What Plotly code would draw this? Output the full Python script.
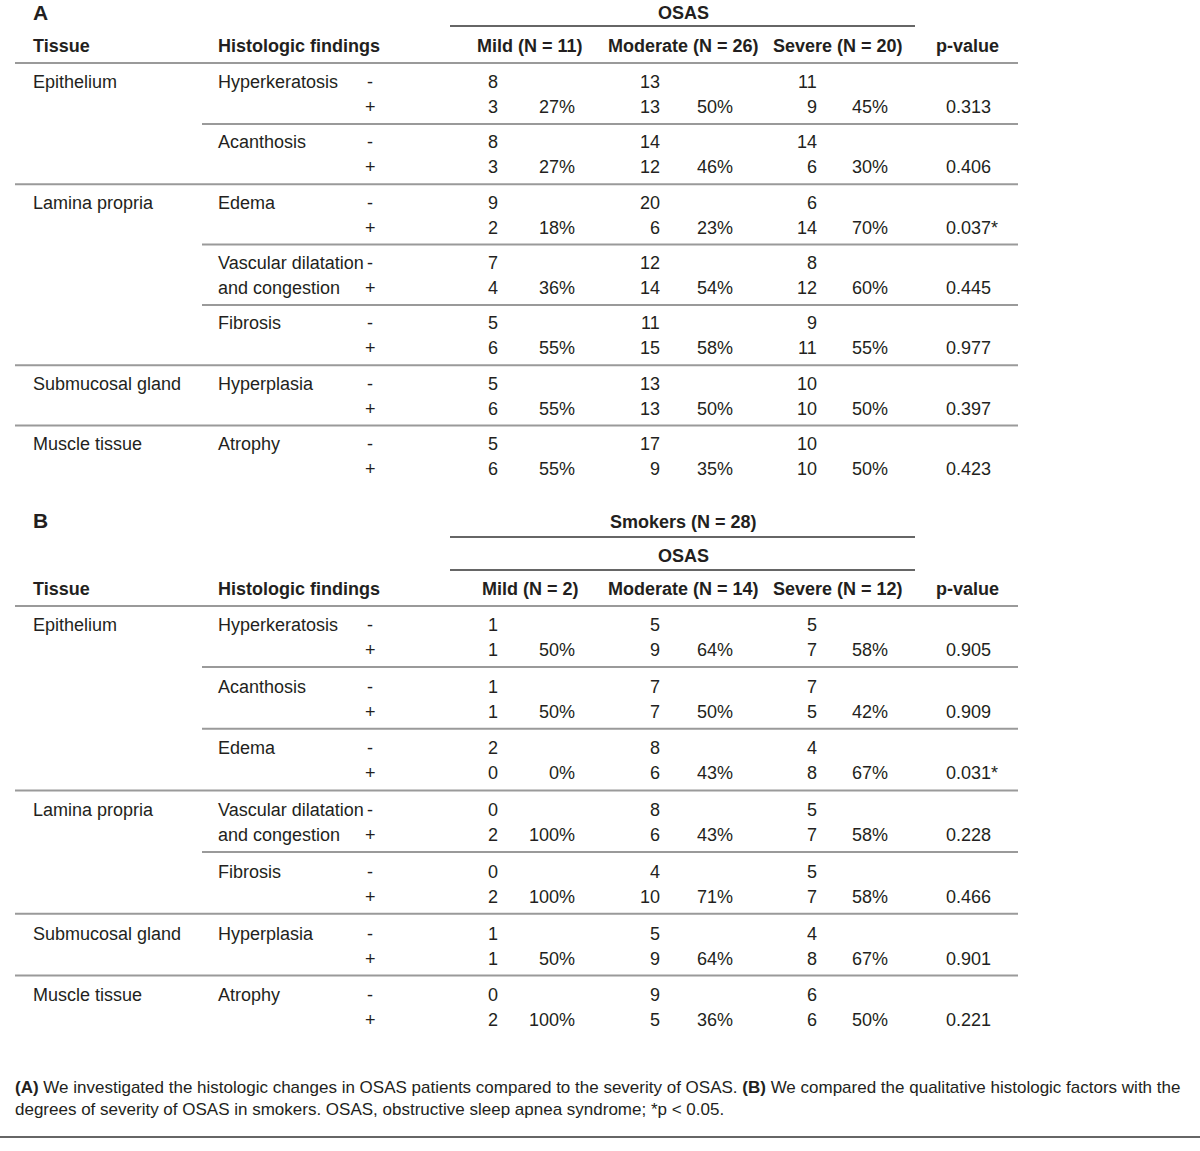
import plotly.graph_objects as go

# ---------------- DATA ----------------
findings_A = ["Hyperkeratosis", "Acanthosis", "Edema", "Vascular dilatation|and congestion",
              "Fibrosis", "Hyperplasia", "Atrophy"]
tissue_A = {0: "Epithelium", 2: "Lamina propria", 5: "Submucosal gland", 6: "Muscle tissue"}
mild_neg_A = [8, 8, 9, 7, 5, 5, 5]
mild_pos_A = [3, 3, 2, 4, 6, 6, 6]
mild_pct_A = [27, 27, 18, 36, 55, 55, 55]
mod_neg_A = [13, 14, 20, 12, 11, 13, 17]
mod_pos_A = [13, 12, 6, 14, 15, 13, 9]
mod_pct_A = [50, 46, 23, 54, 58, 50, 35]
sev_neg_A = [11, 14, 6, 8, 9, 10, 10]
sev_pos_A = [9, 6, 14, 12, 11, 10, 10]
sev_pct_A = [45, 30, 70, 60, 55, 50, 50]
pval_A = ["0.313", "0.406", "0.037*", "0.445", "0.977", "0.397", "0.423"]
headers_A = ["Mild (N = 11)", "Moderate (N = 26)", "Severe (N = 20)"]

findings_B = ["Hyperkeratosis", "Acanthosis", "Edema", "Vascular dilatation|and congestion",
              "Fibrosis", "Hyperplasia", "Atrophy"]
tissue_B = {0: "Epithelium", 3: "Lamina propria", 5: "Submucosal gland", 6: "Muscle tissue"}
mild_neg_B = [1, 1, 2, 0, 0, 1, 0]
mild_pos_B = [1, 1, 0, 2, 2, 1, 2]
mild_pct_B = [50, 50, 0, 100, 100, 50, 100]
mod_neg_B = [5, 7, 8, 8, 4, 5, 9]
mod_pos_B = [9, 7, 6, 6, 10, 9, 5]
mod_pct_B = [64, 50, 43, 43, 71, 64, 36]
sev_neg_B = [5, 7, 4, 5, 5, 4, 6]
sev_pos_B = [7, 5, 8, 7, 7, 8, 6]
sev_pct_B = [58, 42, 67, 58, 58, 67, 50]
pval_B = ["0.905", "0.909", "0.031*", "0.228", "0.466", "0.901", "0.221"]
headers_B = ["Mild (N = 2)", "Moderate (N = 14)", "Severe (N = 12)"]

caption_1 = ("<b>(A)</b> We investigated the histologic changes in OSAS patients compared to the severity of OSAS. "
             "<b>(B)</b> We compared the qualitative histologic factors with the")
caption_2 = "degrees of severity of OSAS in smokers. OSAS, obstructive sleep apnea syndrome; *p &lt; 0.05."

# ---------------- LAYOUT ----------------
FONT = "Liberation Sans, Arial, sans-serif"
TXT = "#231f20"
FS = 18
W, H = 1200, 1151

annotations = []
shapes = []


def text(x, y, s, anchor="left", bold=False, size=FS):
    annotations.append(dict(
        x=x, y=y, xref="x", yref="y", text=f"<b>{s}</b>" if bold else s,
        showarrow=False, xanchor=anchor, yanchor="middle", borderpad=0, borderwidth=0,
        font=dict(family=FONT, size=size, color=TXT)))


def hline(x0, x1, y, color="#9a9a9a", width=2):
    shapes.append(dict(type="line", xref="x", yref="y", x0=x0, x1=x1, y0=y, y1=y,
                       line=dict(color=color, width=width)))


X_TISSUE, X_FIND, X_SIGN = 33, 218, 370
X_CNT = [498, 660, 817]
X_PCT = [575, 733, 888]
X_HDR = [530, 683, 838]
X_P = 946
X_LEFT, X_PART, X_RIGHT = 15, 202, 1018


def table(y_hdr, y0, pitch, findings, tissues, negs, poss, pcts, pvals, headers, full_after, partial_after):
    text(X_TISSUE, y_hdr, "Tissue", bold=True)
    text(X_FIND, y_hdr, "Histologic findings", bold=True)
    for xc, h in zip(X_HDR, headers):
        text(xc, y_hdr, h, anchor="center", bold=True)
    text(967, y_hdr, "p-value", anchor="center", bold=True)
    hline(X_LEFT, X_RIGHT, y_hdr + 17)
    n = len(findings)
    for i in range(n):
        ya = y0 + i * pitch
        yb = ya + 25
        if i in tissues:
            text(X_TISSUE, ya, tissues[i])
        parts = findings[i].split("|")
        text(X_FIND, ya, parts[0])
        if len(parts) > 1:
            text(X_FIND, yb, parts[1])
        text(X_SIGN, ya, "-", anchor="center")
        text(X_SIGN, yb, "+", anchor="center")
        for k in range(3):
            text(X_CNT[k], ya, str(negs[k][i]), anchor="right")
            text(X_CNT[k], yb, str(poss[k][i]), anchor="right")
            text(X_PCT[k], yb, f"{pcts[k][i]}%", anchor="right")
        text(X_P, yb, pvals[i], anchor="left")
        if i in full_after:
            hline(X_LEFT, X_RIGHT, ya + 42)
        elif i in partial_after:
            hline(X_PART, X_RIGHT, ya + 42)


# Table A
text(33, 12, "A", bold=True, size=21)
text(683, 13, "OSAS", anchor="center", bold=True)
hline(450, 915, 26, color="#333333", width=1.5)
table(46, 82, 60.3, findings_A, tissue_A,
      [mild_neg_A, mod_neg_A, sev_neg_A], [mild_pos_A, mod_pos_A, sev_pos_A],
      [mild_pct_A, mod_pct_A, sev_pct_A], pval_A, headers_A,
      full_after={1, 4, 5}, partial_after={0, 2, 3})

# Table B
text(33, 520, "B", bold=True, size=21)
text(683, 522, "Smokers (N = 28)", anchor="center", bold=True)
hline(450, 915, 537, color="#333333", width=1.5)
text(683, 556, "OSAS", anchor="center", bold=True)
hline(450, 915, 570, color="#333333", width=1.5)
table(589, 625, 61.7, findings_B, tissue_B,
      [mild_neg_B, mod_neg_B, sev_neg_B], [mild_pos_B, mod_pos_B, sev_pos_B],
      [mild_pct_B, mod_pct_B, sev_pct_B], pval_B, headers_B,
      full_after={2, 4, 5}, partial_after={0, 1, 3})

# Caption
text(15, 1087, caption_1, size=17)
text(15, 1109, caption_2, size=17)
hline(0, W, 1137, color="#666666", width=2)

fig = go.Figure()
fig.update_layout(
    width=W, height=H, margin=dict(l=0, r=0, t=0, b=0),
    paper_bgcolor="white", plot_bgcolor="white",
    xaxis=dict(range=[0, W], visible=False, fixedrange=True),
    yaxis=dict(range=[H, 0], visible=False, fixedrange=True),
    annotations=annotations, shapes=shapes, showlegend=False,
)
fig.write_html("out.html", config={"displayModeBar": False},
               post_script="document.body.style.margin='0';document.body.style.overflow='hidden';")
